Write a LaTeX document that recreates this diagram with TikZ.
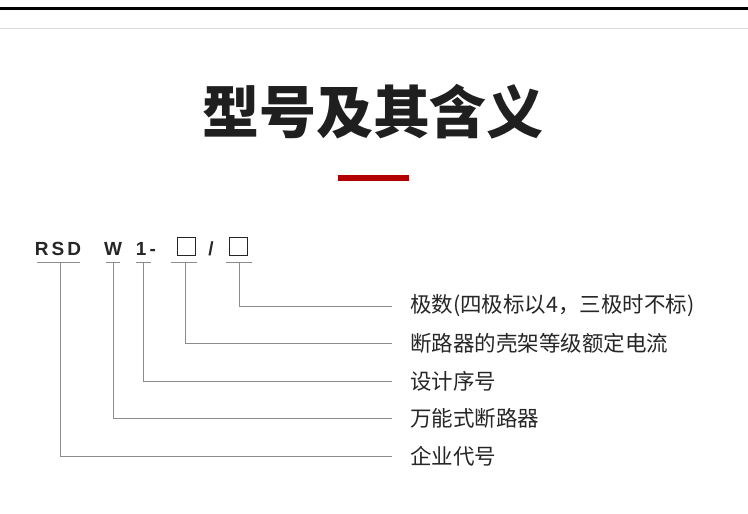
\documentclass[tikz,border=0pt]{standalone}
\usepackage{fontspec}
\setmainfont{Liberation Sans}
\newfontfamily\cjk{Noto Sans CJK SC}
\begin{document}
\begin{tikzpicture}[x=1pt,y=-1pt,
  conn/.style={draw=black!45,line width=1pt},
  lab/.style={anchor=west,inner sep=0pt,font=\cjk\fontsize{21.5}{21.5}\selectfont,text=black!85},
  code/.style={anchor=base,inner sep=0pt,font=\bfseries\fontsize{19}{19}\selectfont,text=black!85}]
\useasboundingbox (0,0) rectangle (748,514);
\fill[black] (0,7) rectangle (748,9.5);
\draw[black!15,line width=0.8pt] (0,28) -- (748,28);
\node[inner sep=0pt,font=\cjk\bfseries\fontsize{57}{57}\selectfont,text=black!88] (title) at (373,112) {型号及其含义};
\fill[red!70!black] (338,175) rectangle (409,181);
\node[code] (rsd) at (58,255) {R\,S\,D};
\node[code] (w) at (113,255) {W};
\node[code] (one) at (146,255) {1\,-};
\node[code] (slash) at (211,255) {/};
\node[draw=black!85,line width=1pt,minimum size=18pt,inner sep=0pt] (b1) at (186,246) {};
\node[draw=black!85,line width=1pt,minimum size=18pt,inner sep=0pt] (b2) at (238,246) {};
\foreach \a/\b in {37/80,106/120,136/151,171/197,226/252}
  \draw[conn] (\a,262) -- (\b,262);
\node[lab] (l1) at (410,306) {极数(四极标以4，三极时不标)};
\node[lab] (l2) at (410,343) {断路器的壳架等级额定电流};
\node[lab] (l3) at (410,381) {设计序号};
\node[lab] (l4) at (410,418) {万能式断路器};
\node[lab] (l5) at (410,456) {企业代号};
\coordinate (e1) at (392,306);\coordinate (e2) at (392,343);\coordinate (e3) at (392,381);
\coordinate (e4) at (392,418);\coordinate (e5) at (392,456);
\draw[conn] (239,262) |- (e1);
\draw[conn] (185,262) |- (e2);
\draw[conn] (143,262) |- (e3);
\draw[conn] (113,262) |- (e4);
\draw[conn] (60,262) |- (e5);
\end{tikzpicture}
\end{document}
